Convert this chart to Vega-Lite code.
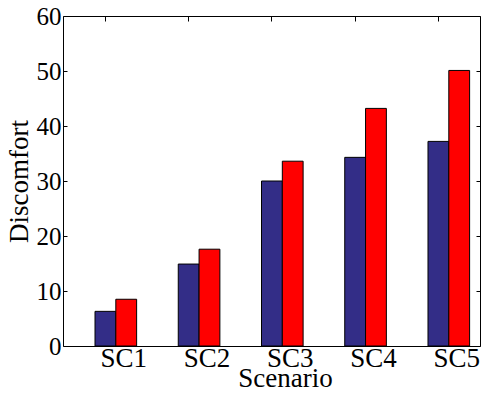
{
  "$schema": "https://vega.github.io/schema/vega-lite/v6.json",
  "width": 417,
  "height": 330,
  "autosize": {"type": "none"},
  "padding": {"left": 63, "top": 16, "right": 1, "bottom": 47},
  "config": {
    "font": "Liberation Serif",
    "view": {"stroke": null},
    "axis": {
      "grid": false,
      "domainColor": "black",
      "domainWidth": 1,
      "tickColor": "black",
      "tickWidth": 1,
      "labelColor": "black",
      "labelFontSize": 25,
      "labelFont": "Liberation Serif",
      "titleFont": "Liberation Serif",
      "titleFontSize": 27,
      "titleFontWeight": "normal",
      "titleColor": "black"
    }
  },
  "data": {
    "values": [
      {"scenario": "SC1", "series": "Series 1", "value": 6.3},
      {"scenario": "SC1", "series": "Series 2", "value": 8.5},
      {"scenario": "SC2", "series": "Series 1", "value": 14.9},
      {"scenario": "SC2", "series": "Series 2", "value": 17.6},
      {"scenario": "SC3", "series": "Series 1", "value": 30.0},
      {"scenario": "SC3", "series": "Series 2", "value": 33.6},
      {"scenario": "SC4", "series": "Series 1", "value": 34.3},
      {"scenario": "SC4", "series": "Series 2", "value": 43.2},
      {"scenario": "SC5", "series": "Series 1", "value": 37.2},
      {"scenario": "SC5", "series": "Series 2", "value": 50.1}
    ]
  },
  "layer": [
    {
      "mark": {"type": "bar", "stroke": "black", "strokeWidth": 1},
      "encoding": {
        "x": {
          "field": "scenario",
          "type": "nominal",
          "sort": ["SC1", "SC2", "SC3", "SC4", "SC5"],
          "scale": {"paddingInner": 0.5, "paddingOuter": 0.2547, "align": 0.755},
          "axis": {
            "orient": "bottom",
            "title": "Scenario",
            "labelAngle": 0,
            "bandPosition": 0.25,
            "labelOffset": 8,
            "labelFontSize": 27,
            "tickSize": -4,
            "labelPadding": 3,
            "titlePadding": -6,
            "titleX": 222
          }
        },
        "xOffset": {
          "field": "series",
          "type": "nominal",
          "scale": {"paddingInner": 0, "paddingOuter": 0}
        },
        "y": {
          "field": "value",
          "type": "quantitative",
          "scale": {"domain": [0, 60], "nice": false},
          "axis": {
            "orient": "left",
            "title": "Discomfort",
            "values": [0, 10, 20, 30, 40, 50, 60],
            "tickSize": -4,
            "labelPadding": 6,
            "titlePadding": 3
          }
        },
        "color": {
          "field": "series",
          "type": "nominal",
          "scale": {"domain": ["Series 1", "Series 2"], "range": ["#332d87", "#ff0000"]},
          "legend": null
        }
      }
    },
    {
      "mark": {"type": "bar", "opacity": 0},
      "encoding": {
        "x": {
          "field": "scenario",
          "type": "nominal",
          "sort": ["SC1", "SC2", "SC3", "SC4", "SC5"],
          "axis": {
            "orient": "top",
            "title": null,
            "labels": false,
            "bandPosition": 0.25,
            "tickSize": -5
          }
        },
        "xOffset": {"field": "series", "type": "nominal"},
        "y": {
          "field": "value",
          "type": "quantitative",
          "axis": {
            "orient": "right",
            "title": null,
            "labels": false,
            "values": [0, 10, 20, 30, 40, 50, 60],
            "tickSize": -4
          }
        }
      }
    }
  ],
  "resolve": {"axis": {"x": "independent", "y": "independent"}}
}
